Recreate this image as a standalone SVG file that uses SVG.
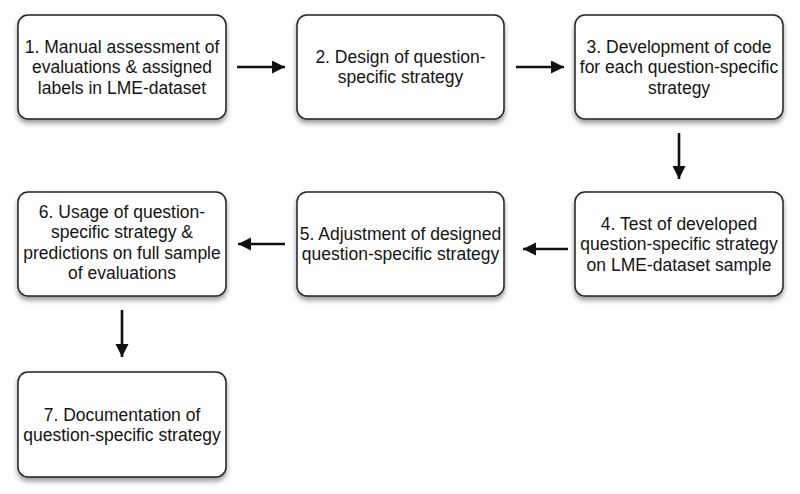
<svg xmlns="http://www.w3.org/2000/svg" width="800" height="494" viewBox="0 0 800 494">
  <defs>
    <filter id="shadow" x="-10%" y="-10%" width="120%" height="130%">
      <feDropShadow dx="0" dy="3.5" stdDeviation="2.5" flood-color="#000" flood-opacity="0.4"/>
    </filter>
    <marker id="head" markerUnits="userSpaceOnUse" markerWidth="14" markerHeight="14" refX="13" refY="6.5" orient="auto">
      <path d="M0,0 L13,6.5 L0,13 Z" fill="#111"/>
    </marker>
  </defs>
  <style>
    .box { fill: #ffffff; stroke: #222222; stroke-width: 1.5; filter: url(#shadow); }
    .lbl { font-family: "Liberation Sans", Arial, Helvetica, sans-serif; font-size: 17.5px; fill: #141414; text-anchor: middle; }
    .conn { stroke: #111111; stroke-width: 2.6; fill: none; marker-end: url(#head); }
  </style>
  <rect width="800" height="494" fill="#ffffff"/>

  <g id="connectors">
    <line class="conn" x1="237" y1="67" x2="285" y2="67"/>
    <line class="conn" x1="516" y1="67" x2="564" y2="67"/>
    <line class="conn" x1="679" y1="133" x2="679" y2="179"/>
    <line class="conn" x1="568" y1="249" x2="523" y2="249"/>
    <line class="conn" x1="285" y1="244" x2="238" y2="244"/>
    <line class="conn" x1="122" y1="310" x2="122" y2="357"/>
  </g>

  <g id="node1">
    <rect class="box" x="18" y="15" width="208" height="104" rx="10"/>
    <text class="lbl" x="122" y="52.5">1. Manual assessment of</text>
    <text class="lbl" x="122" y="73">evaluations &amp; assigned</text>
    <text class="lbl" x="122" y="93.5">labels in LME-dataset</text>
  </g>
  <g id="node2">
    <rect class="box" x="297" y="15" width="207" height="104" rx="10"/>
    <text class="lbl" x="400.5" y="62.75">2. Design of question-</text>
    <text class="lbl" x="400.5" y="83.25">specific strategy</text>
  </g>
  <g id="node3">
    <rect class="box" x="575" y="15" width="208" height="104" rx="10"/>
    <text class="lbl" x="679" y="52.5">3. Development of code</text>
    <text class="lbl" x="679" y="73">for each question-specific</text>
    <text class="lbl" x="679" y="93.5">strategy</text>
  </g>
  <g id="node4">
    <rect class="box" x="575" y="192" width="208" height="104" rx="10"/>
    <text class="lbl" x="679" y="229.5">4. Test of developed</text>
    <text class="lbl" x="679" y="250">question-specific strategy</text>
    <text class="lbl" x="679" y="270.5">on LME-dataset sample</text>
  </g>
  <g id="node5">
    <rect class="box" x="297" y="192" width="207" height="104" rx="10"/>
    <text class="lbl" x="400.5" y="239.75">5. Adjustment of designed</text>
    <text class="lbl" x="400.5" y="260.25">question-specific strategy</text>
  </g>
  <g id="node6">
    <rect class="box" x="18" y="192" width="208" height="104" rx="10"/>
    <text class="lbl" x="122" y="217.5">6. Usage of question-</text>
    <text class="lbl" x="122" y="238">specific strategy &amp;</text>
    <text class="lbl" x="122" y="258.5">predictions on full sample</text>
    <text class="lbl" x="122" y="279">of evaluations</text>
  </g>
  <g id="node7">
    <rect class="box" x="18" y="372" width="208" height="105" rx="10"/>
    <text class="lbl" x="122" y="420.5">7. Documentation of</text>
    <text class="lbl" x="122" y="441">question-specific strategy</text>
  </g>
</svg>
